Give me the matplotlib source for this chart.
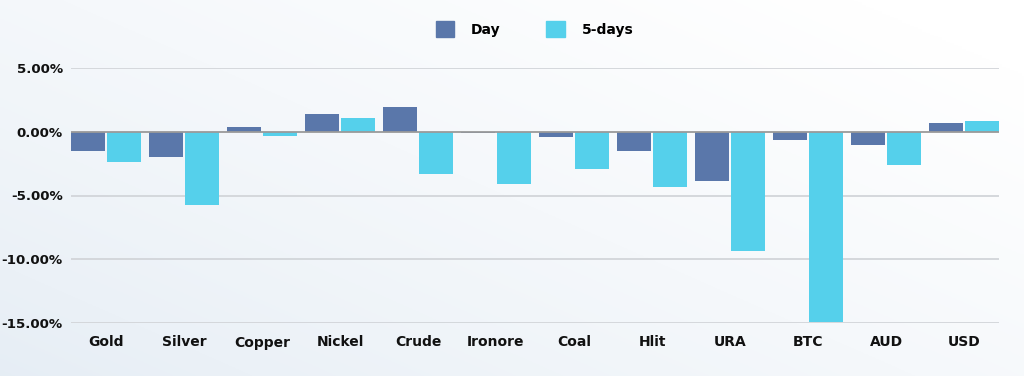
import numpy as np
import matplotlib
matplotlib.use("Agg")
from matplotlib import pyplot as plt
from matplotlib.patches import Patch
from matplotlib.ticker import FuncFormatter

CATEGORIES = ["Gold", "Silver", "Copper", "Nickel", "Crude", "Ironore",
              "Coal", "Hlit", "URA", "BTC", "AUD", "USD"]
DAY = [-1.50, -2.00, 0.38, 1.43, 1.95, -0.10, -0.45, -1.53, -3.88, -0.67, -1.06, 0.69]
FIVE_DAYS = [-2.34, -5.76, -0.35, 1.06, -3.28, -4.06, -2.94, -4.33, -9.35, -14.96, -2.60, 0.85]
Y_TICKS = [5, 0, -5, -10, -15]

DAY_COLOR = "#5a77aa"
FIVE_COLOR = "#55d0eb"

plt.rcParams["font.family"] = ["DejaVu Sans"]
plt.rcParams["font.weight"] = "bold"

fig = plt.figure(figsize=(10.24, 3.76), dpi=100)

# soft background gradient, bluish on the left/bottom, white top-right
bg = fig.add_axes([0, 0, 1, 1], zorder=-10)
xx, yy = np.meshgrid(np.linspace(0, 1, 256), np.linspace(0, 1, 256))
t = np.clip(0.6 * xx + 0.5 * yy, 0, 1) ** 0.8
left = np.array([0.90, 0.93, 0.96])
right = np.array([1.0, 1.0, 1.0])
img = left[None, None, :] * (1 - t[..., None]) + right[None, None, :] * t[..., None]
bg.imshow(img, origin="lower", extent=[0, 1, 0, 1], aspect="auto")
bg.axis("off")

ax = fig.add_axes([71 / 1024, 1 - 323 / 376, 928 / 1024, 255 / 376])
ax.patch.set_alpha(0)

# pitch of one group is 78 px: two 34 px bars with a 2 px gap
x = np.arange(len(CATEGORIES))
w = 34 / 78
off = 18 / 78
ax.bar(x - off, DAY, w, color=DAY_COLOR, zorder=3)
ax.bar(x + off, FIVE_DAYS, w, color=FIVE_COLOR, zorder=3)

edge = 0.5 - 4 / 78
ax.set_xlim(-edge, len(CATEGORIES) - 1 + edge)
ax.set_ylim(-15, 5)
ax.set_yticks(Y_TICKS)
ax.yaxis.set_major_formatter(FuncFormatter(lambda v, _: f"{v:.2f}%"))
for v in Y_TICKS:
    if v == 0:
        ax.axhline(v, color="#9a9a9a", lw=1.3, zorder=4)
    else:
        ax.axhline(v, color="#d2d5d9", lw=1.3, zorder=1)

ax.set_xticks(x)
ax.set_xticklabels(CATEGORIES)
ax.tick_params(length=0, labelsize=10, colors="#111111")
ax.tick_params(axis="x", pad=9)
ax.tick_params(axis="y", pad=6, labelsize=9.6)
for s in ax.spines.values():
    s.set_visible(False)

handles = [Patch(color=DAY_COLOR, label="Day"), Patch(color=FIVE_COLOR, label="5-days")]
fig.legend(handles=handles, loc="center", bbox_to_anchor=(0.522, 1 - 29 / 376), ncol=2,
           frameon=False, handlelength=1.35, handleheight=1.35, handletextpad=1.2,
           columnspacing=3.3, prop={"size": 10, "weight": "bold"})

fig.savefig("out.png", dpi=100)
